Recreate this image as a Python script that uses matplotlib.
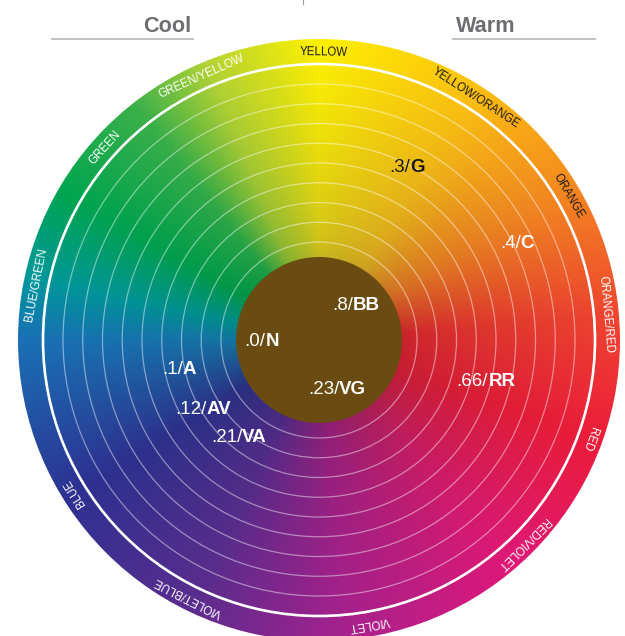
import numpy as np
import matplotlib
matplotlib.use("Agg")
import matplotlib.pyplot as plt
from matplotlib.patches import Circle
from matplotlib.colors import to_rgb
from matplotlib.offsetbox import TextArea, HPacker, AnnotationBbox

plt.rcParams['font.family'] = ['Liberation Sans', 'DejaVu Sans']

# hue stops around the wheel (degrees, counter-clockwise from 3 o'clock)
stop_angles = [-180, -148, -115, -85, -50, -20, 5, 32, 58, 90, 112, 128, 150, 168, 180]
outer_colors = ["#1a70b6", "#2e3192", "#5b2d8f", "#a8218e", "#e0187a", "#ed1c3a",
                "#ef4630", "#f68b1f", "#fdc010", "#fff200", "#b4d334", "#3cb14a",
                "#00a651", "#00979c", "#1a70b6"]
inner_colors = ["#12749e", "#2a2f7e", "#4a2a80", "#8a1f72", "#a8204f", "#c01e32",
                "#c8222a", "#cc6a25", "#c9a023", "#c2b520", "#7fae32", "#1a9a42",
                "#009245", "#008a86", "#12749e"]

ring_labels = ["YELLOW", "YELLOW/ORANGE", "ORANGE", "ORANGE/RED", "RED", "RED/VIOLET",
               "VIOLET", "VIOLET/BLUE", "BLUE", "BLUE/GREEN", "GREEN", "GREEN/YELLOW"]
ring_label_angles = [89, 57, 30, 5, -20, -45, -80, -117, -148, 169, 138, 114]
dark_labels = ["YELLOW", "YELLOW/ORANGE", "ORANGE"]

# inner codes: regular part, bold part, position
code_values = [".8/", ".0/", ".1/", ".23/", ".66/", ".12/", ".21/", ".3/", ".4/"]
code_names = ["BB", "N", "A", "VG", "RR", "AV", "VA", "G", "C"]
code_x = [356, 262, 179, 337, 486, 203, 239, 407, 517]
code_y = [306, 341, 369, 389, 381, 410, 437, 168, 244]
code_colors = ["white"] * 7 + ["#1a1a1a", "white"]

W, H = 625, 636
cx, cy, R = 319, 340, 301
r_core = 83
r_white = 276
ring_radii = np.linspace(98, 256, 9)

fig = plt.figure(figsize=(W / 100, H / 100), dpi=100)
ax = fig.add_axes([0, 0, 1, 1])

# colour wheel image
n = 1200
xs = np.linspace(cx - R, cx + R, n)
ys = np.linspace(cy - R, cy + R, n)
X, Y = np.meshgrid(xs, ys)
dx, dy = X - cx, cy - Y
ang = np.degrees(np.arctan2(dy, dx))
rad = np.hypot(dx, dy)
t = (np.clip((rad - r_core) / (R - r_core), 0, 1) ** 0.6)[..., None]
oc = np.array([to_rgb(c) for c in outer_colors])
ic = np.array([to_rgb(c) for c in inner_colors])
outer = np.stack([np.interp(ang, stop_angles, oc[:, k]) for k in range(3)], -1)
inner = np.stack([np.interp(ang, stop_angles, ic[:, k]) for k in range(3)], -1)
img = inner * (1 - t) + outer * t
im = ax.imshow(img, extent=(cx - R, cx + R, cy + R, cy - R), interpolation='bilinear')
im.set_clip_path(Circle((cx, cy), R, transform=ax.transData))

for r in ring_radii:
    ax.add_patch(Circle((cx, cy), r, fill=False, ec=(1, 1, 1, 0.45), lw=0.9))
ax.add_patch(Circle((cx, cy), r_white, fill=False, ec="white", lw=1.9))
ax.add_patch(Circle((cx, cy), r_core, fc="#6a4c12", ec="none"))

# labels in outer band
r_lab = 288
for lab, a in zip(ring_labels, ring_label_angles):
    x = cx + r_lab * np.cos(np.radians(a))
    y = cy - r_lab * np.sin(np.radians(a))
    col = "#1a1a1a" if lab in dark_labels else "white"
    ax.text(x, y, lab, rotation=a - 90, rotation_mode='anchor', ha='center',
            va='center', fontsize=8.3, color=col)

# value / code labels
for v, nm, x, y, col in zip(code_values, code_names, code_x, code_y, code_colors):
    box = HPacker(children=[TextArea(v, textprops=dict(fontsize=13.5, color=col)),
                            TextArea(nm, textprops=dict(fontsize=13.5, color=col,
                                                        fontweight='bold'))],
                  align="baseline", pad=0, sep=0)
    ax.add_artist(AnnotationBbox(box, (x, y), frameon=False, box_alignment=(0.5, 0.5),
                                 pad=0))

# Cool / Warm headers
ax.text(191, 32, "Cool", ha='right', va='baseline', fontsize=15.6,
        fontweight='bold', color="#6d6e71")
ax.plot([52, 193], [39, 39], color="#b5b5b5", lw=1.2)
ax.text(456, 32, "Warm", ha='left', va='baseline', fontsize=15.6,
        fontweight='bold', color="#6d6e71")
ax.plot([453, 595], [39, 39], color="#b5b5b5", lw=1.2)
ax.plot([303, 303], [0, 4], color="#999999", lw=0.8)

ax.set_xlim(0, W)
ax.set_ylim(H, 0)
ax.set_aspect('equal')
ax.axis('off')
fig.savefig("out.png", dpi=100)
